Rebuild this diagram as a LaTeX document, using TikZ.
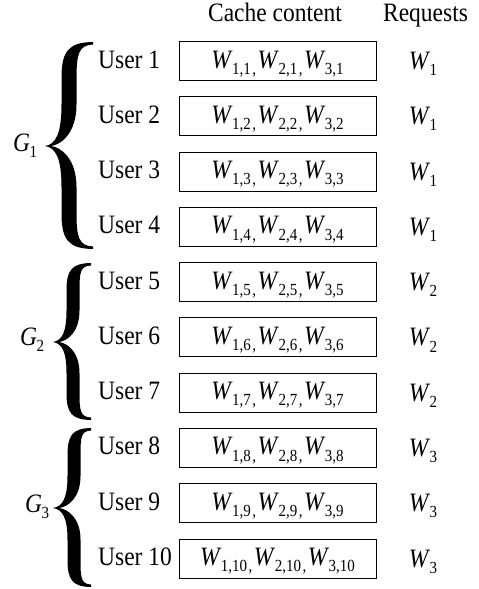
\documentclass[tikz,border=0pt]{standalone}
\usepackage{fontspec}
\usepackage{graphicx}
\setmainfont{Liberation Serif}
\newcommand\vs[1]{\scalebox{1}[1.13]{#1}}
\newcommand\subf[1]{\raisebox{-5.5pt}{\fontsize{15}{15}\selectfont #1}}
\newcommand\Ws[1]{\textit{W}\kern-0.5pt\subf{#1}}
\newcommand\Wc{\kern1.5pt\subf{,}\kern1.5pt}
\newcommand\bigbrace[7]{%
 \pgfmathsetmacro\BrT{#1}\pgfmathsetmacro\BrM{#2}\pgfmathsetmacro\BrB{#3}%
 \pgfmathsetmacro\BrL{#4}\pgfmathsetmacro\BrA{#5}\pgfmathsetmacro\BrR{#6}\pgfmathsetmacro\BrW{#7}%
 \pgfmathsetmacro\BrHu{\BrM-\BrT}\pgfmathsetmacro\BrHd{\BrB-\BrM}%
 \fill (\BrR,\BrT)
   .. controls ({\BrA-\BrW+0.25*(\BrR-\BrA)},{\BrT+0.3}) and ({\BrA-\BrW},{\BrT+0.1*\BrHu}) .. ({\BrA-\BrW},{\BrT+0.35*\BrHu})
   -- ({\BrA-\BrW},{\BrM-0.4*\BrHu})
   .. controls ({\BrA-\BrW},{\BrM-0.12*\BrHu}) and ({\BrL+0.45*(\BrA-\BrL)},{\BrM-1.5}) .. (\BrL,\BrM)
   .. controls ({\BrL+0.45*(\BrA-\BrL)},{\BrM+1.5}) and ({\BrA-\BrW},{\BrM+0.12*\BrHd}) .. ({\BrA-\BrW},{\BrM+0.4*\BrHd})
   -- ({\BrA-\BrW},{\BrB-0.35*\BrHd})
   .. controls ({\BrA-\BrW},{\BrB-0.1*\BrHd}) and ({\BrA-\BrW+0.25*(\BrR-\BrA)},{\BrB-0.3}) .. (\BrR,\BrB)
   -- (\BrR,{\BrB-2.5})
   .. controls ({\BrA+0.4*(\BrR-\BrA)},{\BrB-3}) and ({\BrA+\BrW},{\BrB-0.12*\BrHd}) .. ({\BrA+\BrW},{\BrB-0.35*\BrHd})
   -- ({\BrA+\BrW},{\BrM+0.4*\BrHd})
   .. controls ({\BrA+\BrW},{\BrM+0.12*\BrHd}) and ({\BrL+6+0.4*(\BrA-\BrL)},{\BrM+1}) .. ({\BrL+6},\BrM)
   .. controls ({\BrL+6+0.4*(\BrA-\BrL)},{\BrM-1}) and ({\BrA+\BrW},{\BrM-0.12*\BrHu}) .. ({\BrA+\BrW},{\BrM-0.4*\BrHu})
   -- ({\BrA+\BrW},{\BrT+0.35*\BrHu})
   .. controls ({\BrA+\BrW},{\BrT+0.12*\BrHu}) and ({\BrA+0.4*(\BrR-\BrA)},{\BrT+3}) .. (\BrR,{\BrT+2.5})
   -- cycle;
}
\begin{document}
\begin{tikzpicture}[x=1pt,y=-1pt,
  txt/.style={inner sep=0pt,font=\fontsize{23.5}{28}\selectfont},
  userlbl/.style={txt,anchor=base west},
  reqlbl/.style={txt,anchor=base},
  header/.style={txt,anchor=base},
  grp/.style={txt,anchor=base west},
  cbox/.style={txt,draw,line width=0.9pt,minimum width=197pt,minimum height=39pt,
    text height=26.5pt,text depth=12.5pt}]
\useasboundingbox (0,0) rectangle (479,589);
\node[header] (hc) at (275,21) {\vs{Cache content}};
\node[header] (hr) at (425.5,21) {\vs{Requests}};
\foreach \i/\g in {1/1,2/1,3/1,4/1,5/2,6/2,7/2,8/3,9/3,10/3} {
  \pgfmathsetmacro\yy{61+(\i-1)*55.28}
  \node[userlbl] (u\i) at (98,{\yy+7}) {\vs{User \i}};
  \node[cbox] (b\i) at (277.5,\yy) {\vs{\Ws{1,\i}\Wc\Ws{2,\i}\Wc\Ws{3,\i}}};
  \node[reqlbl] (r\i) at (423,{\yy+8.5}) {\vs{\Ws{\g}}};
}
\bigbrace{42}{146}{249}{45}{69}{93}{7.5}
\bigbrace{263}{342}{420}{53}{73}{91}{6.5}
\bigbrace{428}{508}{587}{53}{74}{91}{6.5}
\node[grp] (g1) at (13,151) {\vs{\textit{G}\kern-0.5pt\subf{1}}};
\node[grp] (g2) at (20,345) {\vs{\textit{G}\kern-0.5pt\subf{2}}};
\node[grp] (g3) at (25,512) {\vs{\textit{G}\kern-0.5pt\subf{3}}};
\end{tikzpicture}
\end{document}
